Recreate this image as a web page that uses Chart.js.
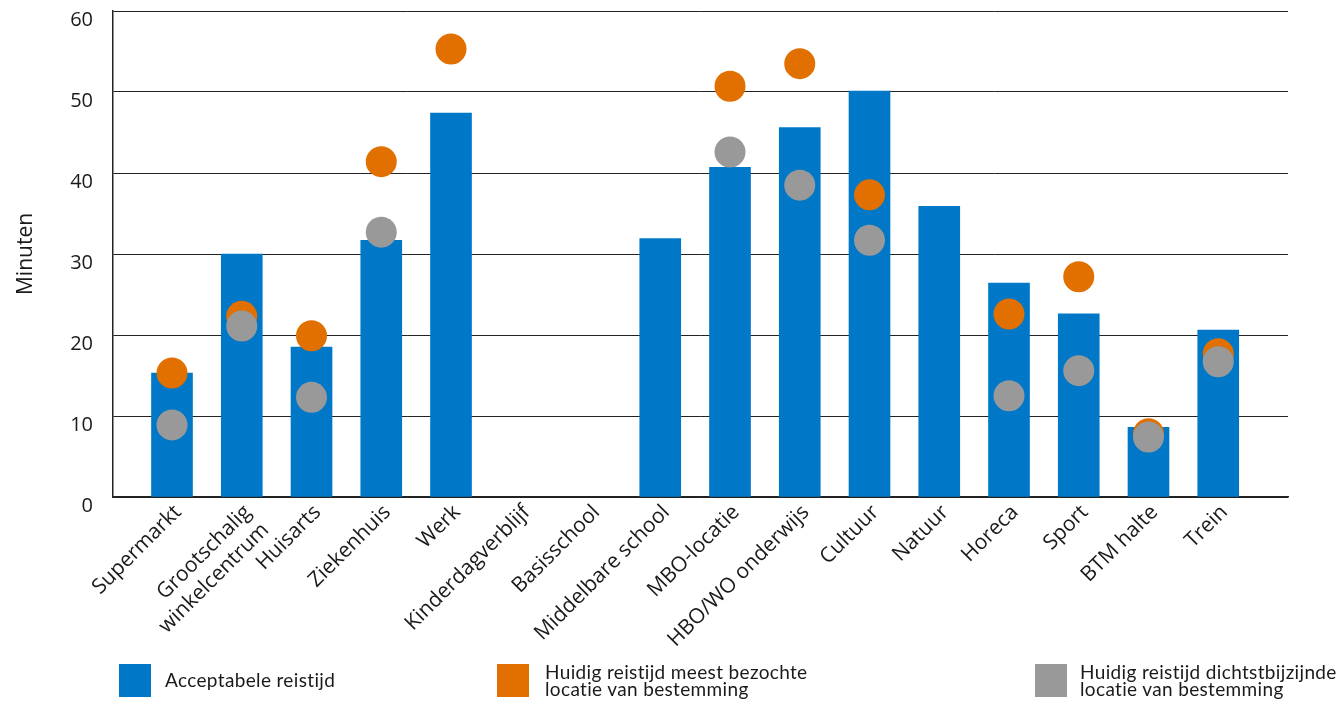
<!DOCTYPE html>
<html>
<head>
<meta charset="utf-8">
<script src="https://cdn.jsdelivr.net/npm/chart.js@4"></script>
<style>
  html, body { margin: 0; padding: 0; background: #fff; }
  body { width: 1342px; height: 706px; position: relative; overflow: hidden;
         font-family: Lato, "Noto Sans", sans-serif; color: #1a1a1a; }
  #wrap { position: absolute; left: 0; top: 0; width: 1342px; height: 706px; }
  .lg { position: absolute; top: 664px; font-size: 19px; line-height: 17px; letter-spacing: 0.35px; }
  .lg .sw { position: absolute; left: 0; top: 0; width: 32px; height: 33px; }
  .lg .tx { position: absolute; top: -1px; white-space: nowrap; }
</style>
</head>
<body>
<div id="wrap"><canvas id="chart" width="1342" height="706"></canvas></div>

<div class="lg" style="left:119px">
  <div class="sw" style="background:#0078C7"></div>
  <div class="tx" style="left:46px; top:7px">Acceptabele reistijd</div>
</div>
<div class="lg" style="left:497px">
  <div class="sw" style="background:#E17000"></div>
  <div class="tx" style="left:48px">Huidig reistijd meest bezochte<br>locatie van bestemming</div>
</div>
<div class="lg" style="left:1035px">
  <div class="sw" style="background:#999999"></div>
  <div class="tx" style="left:45px">Huidig reistijd dichtstbijzijnde<br>locatie van bestemming</div>
</div>

<script>
/* data (minutes) */
const categories = [
  'Supermarkt', ['Grootschalig', 'winkelcentrum'], 'Huisarts', 'Ziekenhuis', 'Werk',
  'Kinderdagverblijf', 'Basisschool', 'Middelbare school', 'MBO-locatie',
  'HBO/WO onderwijs', 'Cultuur', 'Natuur', 'Horeca', 'Sport', 'BTM halte', 'Trein'
];
const acceptabel   = [15.3, 30.0, 18.5, 31.7, 47.4, null, null, 31.9, 40.7, 45.6, 50.1, 35.9, 26.4, 22.6, 8.6, 20.6];
const meestBezocht = [15.3, 22.3, 19.9, 41.4, 55.3, null, null, null, 50.7, 53.5, 37.3, null, 22.6, 27.2, 7.8, 17.7];
const dichtstbij   = [ 8.9, 21.1, 12.3, 32.7, null, null, null, null, 42.6, 38.5, 31.7, null, 12.5, 15.6, 7.4, 16.7];
const yTicks = [0, 10, 20, 30, 40, 50, 60];

const BLUE = '#0078C7', ORANGE = '#E17000', GREY = '#999999';
const FONT = '"Open Sans", Lato, sans-serif';

const pts = arr => arr.map((v, i) => ({ x: i, y: v })).filter(p => p.y !== null);

new Chart(document.getElementById('chart'), {
  data: {
    datasets: [
      { type: 'scatter', label: 'Huidig reistijd dichtstbijzijnde locatie van bestemming',
        data: pts(dichtstbij), backgroundColor: GREY, borderWidth: 0,
        pointRadius: 15.5, pointHoverRadius: 15.5, order: 0 },
      { type: 'scatter', label: 'Huidig reistijd meest bezochte locatie van bestemming',
        data: pts(meestBezocht), backgroundColor: ORANGE, borderWidth: 0,
        pointRadius: 15.5, pointHoverRadius: 15.5, order: 1 },
      { type: 'bar', label: 'Acceptabele reistijd',
        data: pts(acceptabel), backgroundColor: BLUE, borderWidth: 0,
        barThickness: 41, order: 2 }
    ]
  },
  options: {
    responsive: false,
    animation: false,
    layout: { autoPadding: false, padding: { top: 11, right: 54, left: 0, bottom: 0 } },
    plugins: { legend: { display: false }, tooltip: { enabled: false } },
    scales: {
      x: {
        type: 'linear', min: -0.846, max: 16, offset: false,
        grid: { display: false },
        border: { display: true, color: '#222', width: 1.5 },
        afterFit: s => { s.height = 209; s.paddingLeft = 0; s.paddingRight = 0; },
        ticks: {
          stepSize: 1, includeBounds: false, autoSkip: false,
          minRotation: 45, maxRotation: 45, padding: -5, labelOffset: 6,
          color: '#1a1a1a', font: { family: FONT, size: 21 },
          callback: v => categories[v] ?? ''
        }
      },
      y: {
        min: 0, max: 60,
        afterFit: s => { s.width = 113; s.paddingTop = 0; s.paddingBottom = 0; },
        afterBuildTicks: s => { s.ticks = yTicks.map(v => ({ value: v })); },
        grid: { color: '#222', lineWidth: 1, drawTicks: false },
        border: { display: true, color: '#222', width: 1.5 },
        ticks: {
          padding: 20, labelOffset: 9, color: '#1a1a1a',
          font: { family: FONT, size: 20 }
        },
        title: {
          display: true, text: 'Minuten', color: '#1a1a1a',
          font: { family: FONT, size: 21 }, padding: { top: 13, bottom: 0 }
        }
      }
    }
  }
});
</script>
</body>
</html>
